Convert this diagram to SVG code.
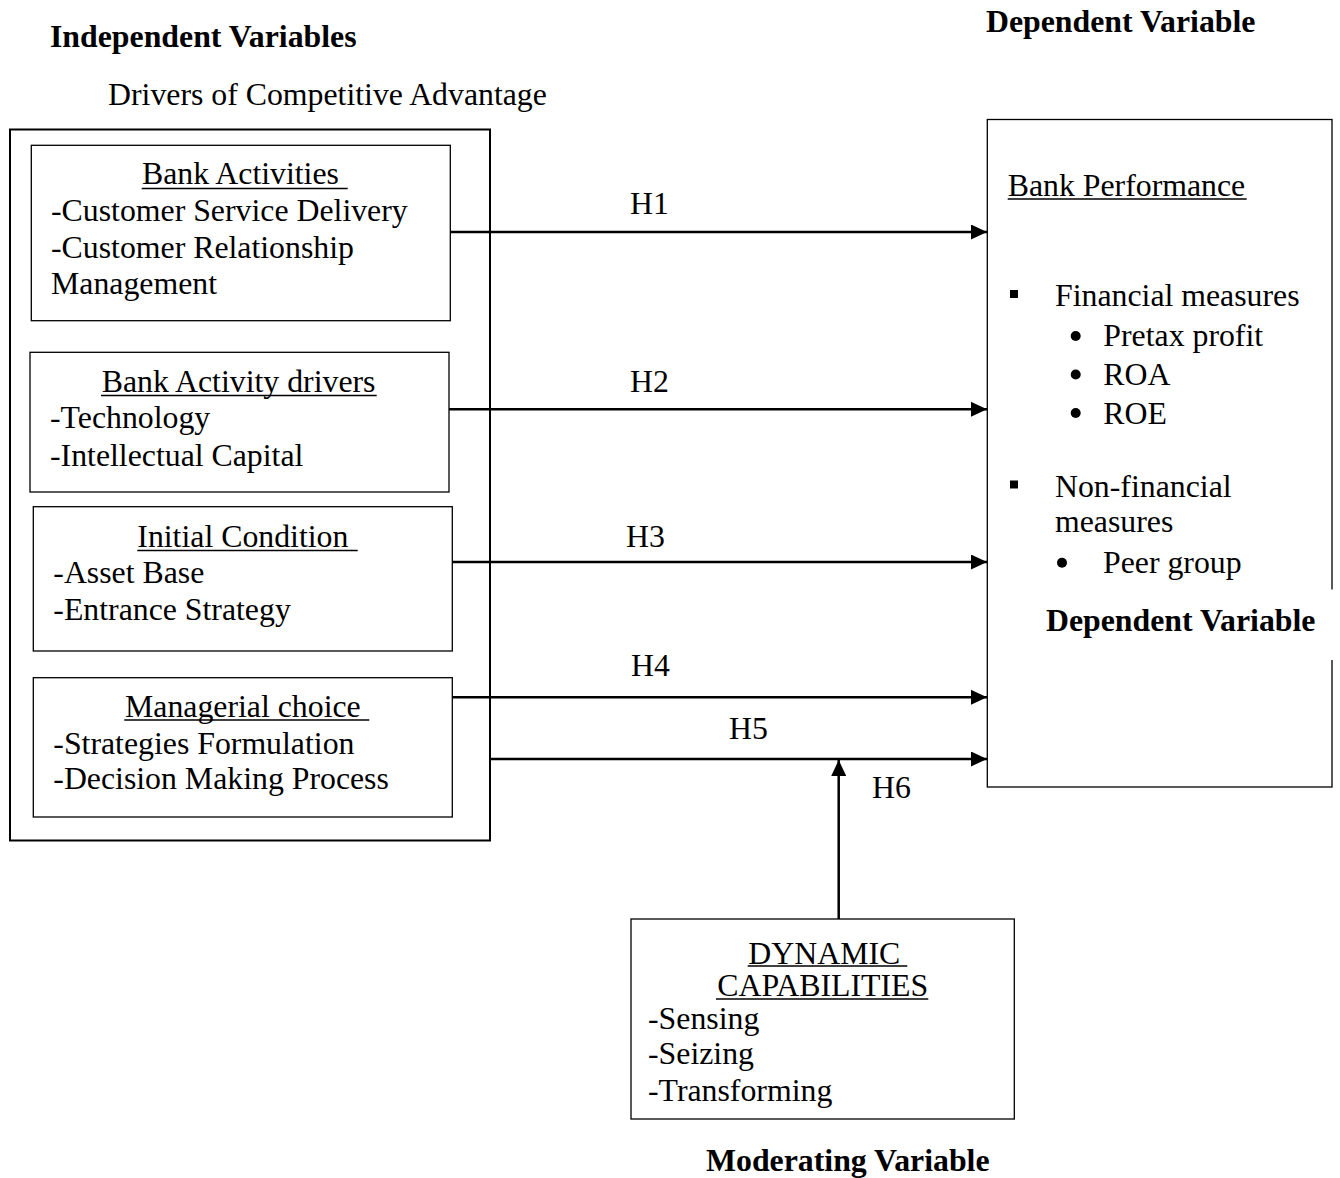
<svg xmlns="http://www.w3.org/2000/svg" width="1340" height="1178" viewBox="0 0 1340 1178">
<style>
.t{font-family:"Liberation Serif","Times New Roman",serif;font-size:31.8px;fill:#000}
.b{font-weight:bold}
.box{fill:#fff;stroke:#000;stroke-width:1.3}
.outer{fill:none;stroke:#000;stroke-width:2}
.ul{stroke:#000;stroke-width:1.5}
.con{stroke:#000;stroke-width:2.5;fill:none}
</style>
<defs>
<marker id="ah" markerUnits="userSpaceOnUse" markerWidth="16" markerHeight="15" refX="16" refY="7.5" orient="auto">
<path d="M0,0 L16,7.5 L0,15 z" fill="#000"/>
</marker>
</defs>
<rect width="1340" height="1178" fill="#fff"/>

<g id="titles">
<text class="t b" x="50" y="47">Independent Variables</text>
<text class="t b" x="986" y="32">Dependent Variable</text>
<text class="t" x="108" y="105">Drivers of Competitive Advantage</text>
</g>

<g id="independent-group">
<rect class="outer" x="10" y="129.5" width="480" height="711"/>
</g>

<g id="bank-activities">
<rect class="box" x="31.3" y="145.3" width="419" height="175.4"/>
<text class="t" x="142" y="184">Bank Activities</text>
<text class="t" x="51" y="221">-Customer Service Delivery</text>
<text class="t" x="51" y="258">-Customer Relationship</text>
<text class="t" x="51" y="294">Management</text>
<line class="ul" x1="141.7" y1="188.5" x2="347.7" y2="188.5"/>
</g>

<g id="bank-activity-drivers">
<rect class="box" x="30" y="352.3" width="419" height="139.7"/>
<text class="t" x="101.7" y="392">Bank Activity drivers</text>
<text class="t" x="50" y="428">-Technology</text>
<text class="t" x="50" y="466">-Intellectual Capital</text>
<line class="ul" x1="101" y1="395.5" x2="376.7" y2="395.5"/>
</g>

<g id="initial-condition">
<rect class="box" x="33.3" y="506.7" width="419" height="144.3"/>
<text class="t" x="137.3" y="547">Initial Condition</text>
<text class="t" x="53.3" y="583">-Asset Base</text>
<text class="t" x="53.3" y="620">-Entrance Strategy</text>
<line class="ul" x1="137.3" y1="550.5" x2="357.7" y2="550.5"/>
</g>

<g id="managerial-choice">
<rect class="box" x="33.3" y="677.7" width="419" height="139.3"/>
<text class="t" x="125" y="717">Managerial choice</text>
<text class="t" x="53.3" y="754">-Strategies Formulation</text>
<text class="t" x="53.3" y="789">-Decision Making Process</text>
<line class="ul" x1="124.3" y1="720" x2="369.3" y2="720"/>
</g>

<g id="bank-performance">
<rect class="box" x="987.3" y="119.5" width="344.7" height="667.5"/>
<text class="t" x="1007.7" y="196">Bank Performance</text>
<text class="t" x="1055" y="306">Financial measures</text>
<text class="t" x="1103.3" y="346">Pretax profit</text>
<text class="t" x="1103.3" y="385">ROA</text>
<text class="t" x="1103.3" y="424">ROE</text>
<text class="t" x="1055" y="497">Non-financial</text>
<text class="t" x="1055" y="532">measures</text>
<text class="t" x="1103" y="573">Peer group</text>
<line class="ul" x1="1007.7" y1="199" x2="1246.7" y2="199"/>
<rect x="1010" y="290" width="8" height="8" fill="#000"/>
<rect x="1010" y="480.5" width="8" height="8" fill="#000"/>
<circle cx="1075.7" cy="336" r="5" fill="#000"/>
<circle cx="1075.7" cy="374.5" r="5" fill="#000"/>
<circle cx="1075.7" cy="413" r="5" fill="#000"/>
<circle cx="1062" cy="562.7" r="5" fill="#000"/>
<rect x="995" y="589.5" width="345" height="70.5" fill="#fff"/>
<text class="t b" x="1046" y="631">Dependent Variable</text>
</g>

<g id="dynamic-capabilities">
<rect class="box" x="631" y="919" width="383.3" height="200"/>
<text class="t" x="748.3" y="964">DYNAMIC</text>
<text class="t" x="717.3" y="996">CAPABILITIES</text>
<text class="t" x="648" y="1029">-Sensing</text>
<text class="t" x="648" y="1064">-Seizing</text>
<text class="t" x="648" y="1101">-Transforming</text>
<text class="t b" x="706" y="1171">Moderating Variable</text>
<line class="ul" x1="747.7" y1="966" x2="907.3" y2="966"/>
<line class="ul" x1="716" y1="999" x2="928.3" y2="999"/>
</g>

<g id="connectors">
<line class="con" x1="450.3" y1="232" x2="987" y2="232" marker-end="url(#ah)"/>
<line class="con" x1="449" y1="409.3" x2="987" y2="409.3" marker-end="url(#ah)"/>
<line class="con" x1="452.3" y1="562" x2="987" y2="562" marker-end="url(#ah)"/>
<line class="con" x1="452.3" y1="697.3" x2="987" y2="697.3" marker-end="url(#ah)"/>
<line class="con" x1="490" y1="759" x2="987" y2="759" marker-end="url(#ah)"/>
<line class="con" x1="838.7" y1="919" x2="838.7" y2="760" marker-end="url(#ah)"/>
<text class="t" x="630" y="214">H1</text>
<text class="t" x="630" y="392">H2</text>
<text class="t" x="626" y="547">H3</text>
<text class="t" x="631" y="676">H4</text>
<text class="t" x="729" y="739">H5</text>
<text class="t" x="872" y="798">H6</text>
</g>
</svg>
